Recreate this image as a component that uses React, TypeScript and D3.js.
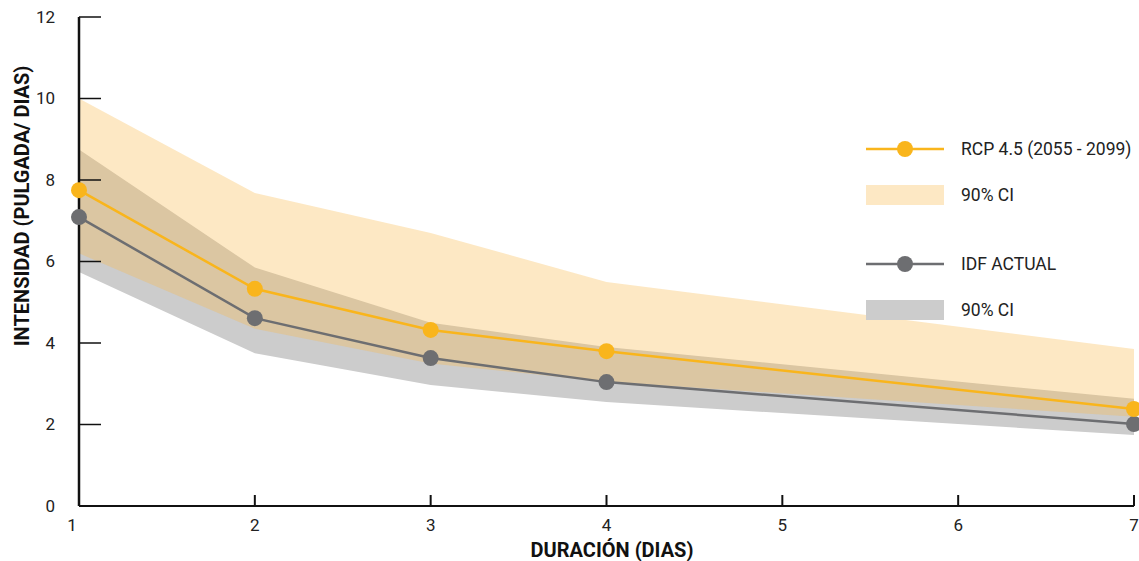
import React from 'react';
import * as d3 from 'd3';

const durations = [1, 2, 3, 4, 7];
const rcpMean = [7.75, 5.33, 4.32, 3.8, 2.38];
const rcpUpper = [10.0, 7.68, 6.7, 5.5, 3.85];
const rcpLower = [6.2, 4.35, 3.5, 3.05, 2.19];
const idfMean = [7.09, 4.61, 3.63, 3.04, 2.01];
const idfUpper = [8.75, 5.85, 4.5, 3.9, 2.63];
const idfLower = [5.74, 3.75, 2.97, 2.55, 1.74];
const xTicks = [1, 2, 3, 4, 5, 6, 7];
const yTicks = [0, 2, 4, 6, 8, 10, 12];

const ORANGE = '#F9B51C';
const DARK = '#6D6E71';
const FONT = 'Roboto, "DejaVu Sans", sans-serif';

export default function App() {
  const width = 1139;
  const height = 561;
  const margin = { top: 17, right: 5, bottom: 55, left: 79 };
  const x = d3.scaleLinear().domain([1, 7]).range([margin.left, width - margin.right]);
  const y = d3.scaleLinear().domain([0, 12]).range([height - margin.bottom, margin.top]);

  const band = (lo: number[], hi: number[]) =>
    d3.area<number>()
      .x((_, i) => x(durations[i]))
      .y0((_, i) => y(lo[i]))
      .y1((_, i) => y(hi[i]))(durations) || '';
  const line = (vals: number[]) =>
    d3.line<number>().x((d) => x(d)).y((_, i) => y(vals[i]))(durations) || '';

  const y0 = y(0);

  const legend = [
    { type: 'line', color: ORANGE, label: 'RCP 4.5 (2055 - 2099)', yy: 149 },
    { type: 'rect', color: '#FDE8C4', label: '90% CI', yy: 195 },
    { type: 'line', color: DARK, label: 'IDF ACTUAL', yy: 264 },
    { type: 'rect', color: '#CCCCCC', label: '90% CI', yy: 310 },
  ];

  return (
    <svg width={width} height={height} style={{ position: 'absolute', left: 0, top: 0 }} fontFamily={FONT}>
      <rect width={width} height={height} fill="#fff" />
      {/* bands */}
      <path d={band(idfLower, idfUpper)} fill="#CCCCCC" />
      <path d={band(rcpLower, rcpUpper)} fill="#F9BA4E" fillOpacity={0.333} />

      {/* y axis */}
      {yTicks.map((t) => (
        <g key={'y' + t}>
          <line x1={x(1)} x2={x(1) + 22} y1={y(t)} y2={y(t)} stroke="#111" strokeWidth={1.5} />
          <text x={55} y={y(t)} dy="0.35em" textAnchor="end" fontSize={17} fill="#222">{t}</text>
        </g>
      ))}
      <line x1={x(1)} x2={x(1)} y1={y(12)} y2={y0} stroke="#111" strokeWidth={2.5} />

      {/* x axis */}
      <line x1={x(1)} x2={x(7)} y1={y0} y2={y0} stroke="#111" strokeWidth={1.8} />
      {xTicks.map((t) => (
        <g key={'x' + t}>
          <line x1={x(t)} x2={x(t)} y1={y0} y2={y0 - 11} stroke="#111" strokeWidth={2} />
          <text x={t === 1 ? x(t) - 7 : x(t)} y={525} dy="0.35em" textAnchor="middle" fontSize={17} fill="#222">{t}</text>
        </g>
      ))}

      {/* series */}
      <path d={line(idfMean)} fill="none" stroke={DARK} strokeWidth={2.5} />
      <path d={line(rcpMean)} fill="none" stroke={ORANGE} strokeWidth={2.5} />
      {durations.map((d, i) => (
        <circle key={'g' + d} cx={x(d)} cy={y(idfMean[i])} r={8} fill={DARK} />
      ))}
      {durations.map((d, i) => (
        <circle key={'o' + d} cx={x(d)} cy={y(rcpMean[i])} r={8} fill={ORANGE} />
      ))}

      {/* titles */}
      <text x={612} y={550} dy="0.35em" textAnchor="middle" fontSize={20} fontWeight="bold" fill="#111">DURACIÓN (DIAS)</text>
      <text transform={`translate(22,206) rotate(-90)`} dy="0.35em" textAnchor="middle" fontSize={20} fontWeight="bold" fill="#111">INTENSIDAD (PULGADA/ DIAS)</text>

      {/* legend */}
      {legend.map((l, i) => (
        <g key={'l' + i}>
          {l.type === 'line' ? (
            <>
              <line x1={866} x2={944} y1={l.yy} y2={l.yy} stroke={l.color} strokeWidth={2.5} />
              <circle cx={905} cy={l.yy} r={8} fill={l.color} />
            </>
          ) : (
            <rect x={866} y={l.yy - 10} width={78} height={20} fill={l.color} />
          )}
          <text x={961} y={l.yy} dy="0.35em" fontSize={17.5} fill="#222">{l.label}</text>
        </g>
      ))}
    </svg>
  );
}
